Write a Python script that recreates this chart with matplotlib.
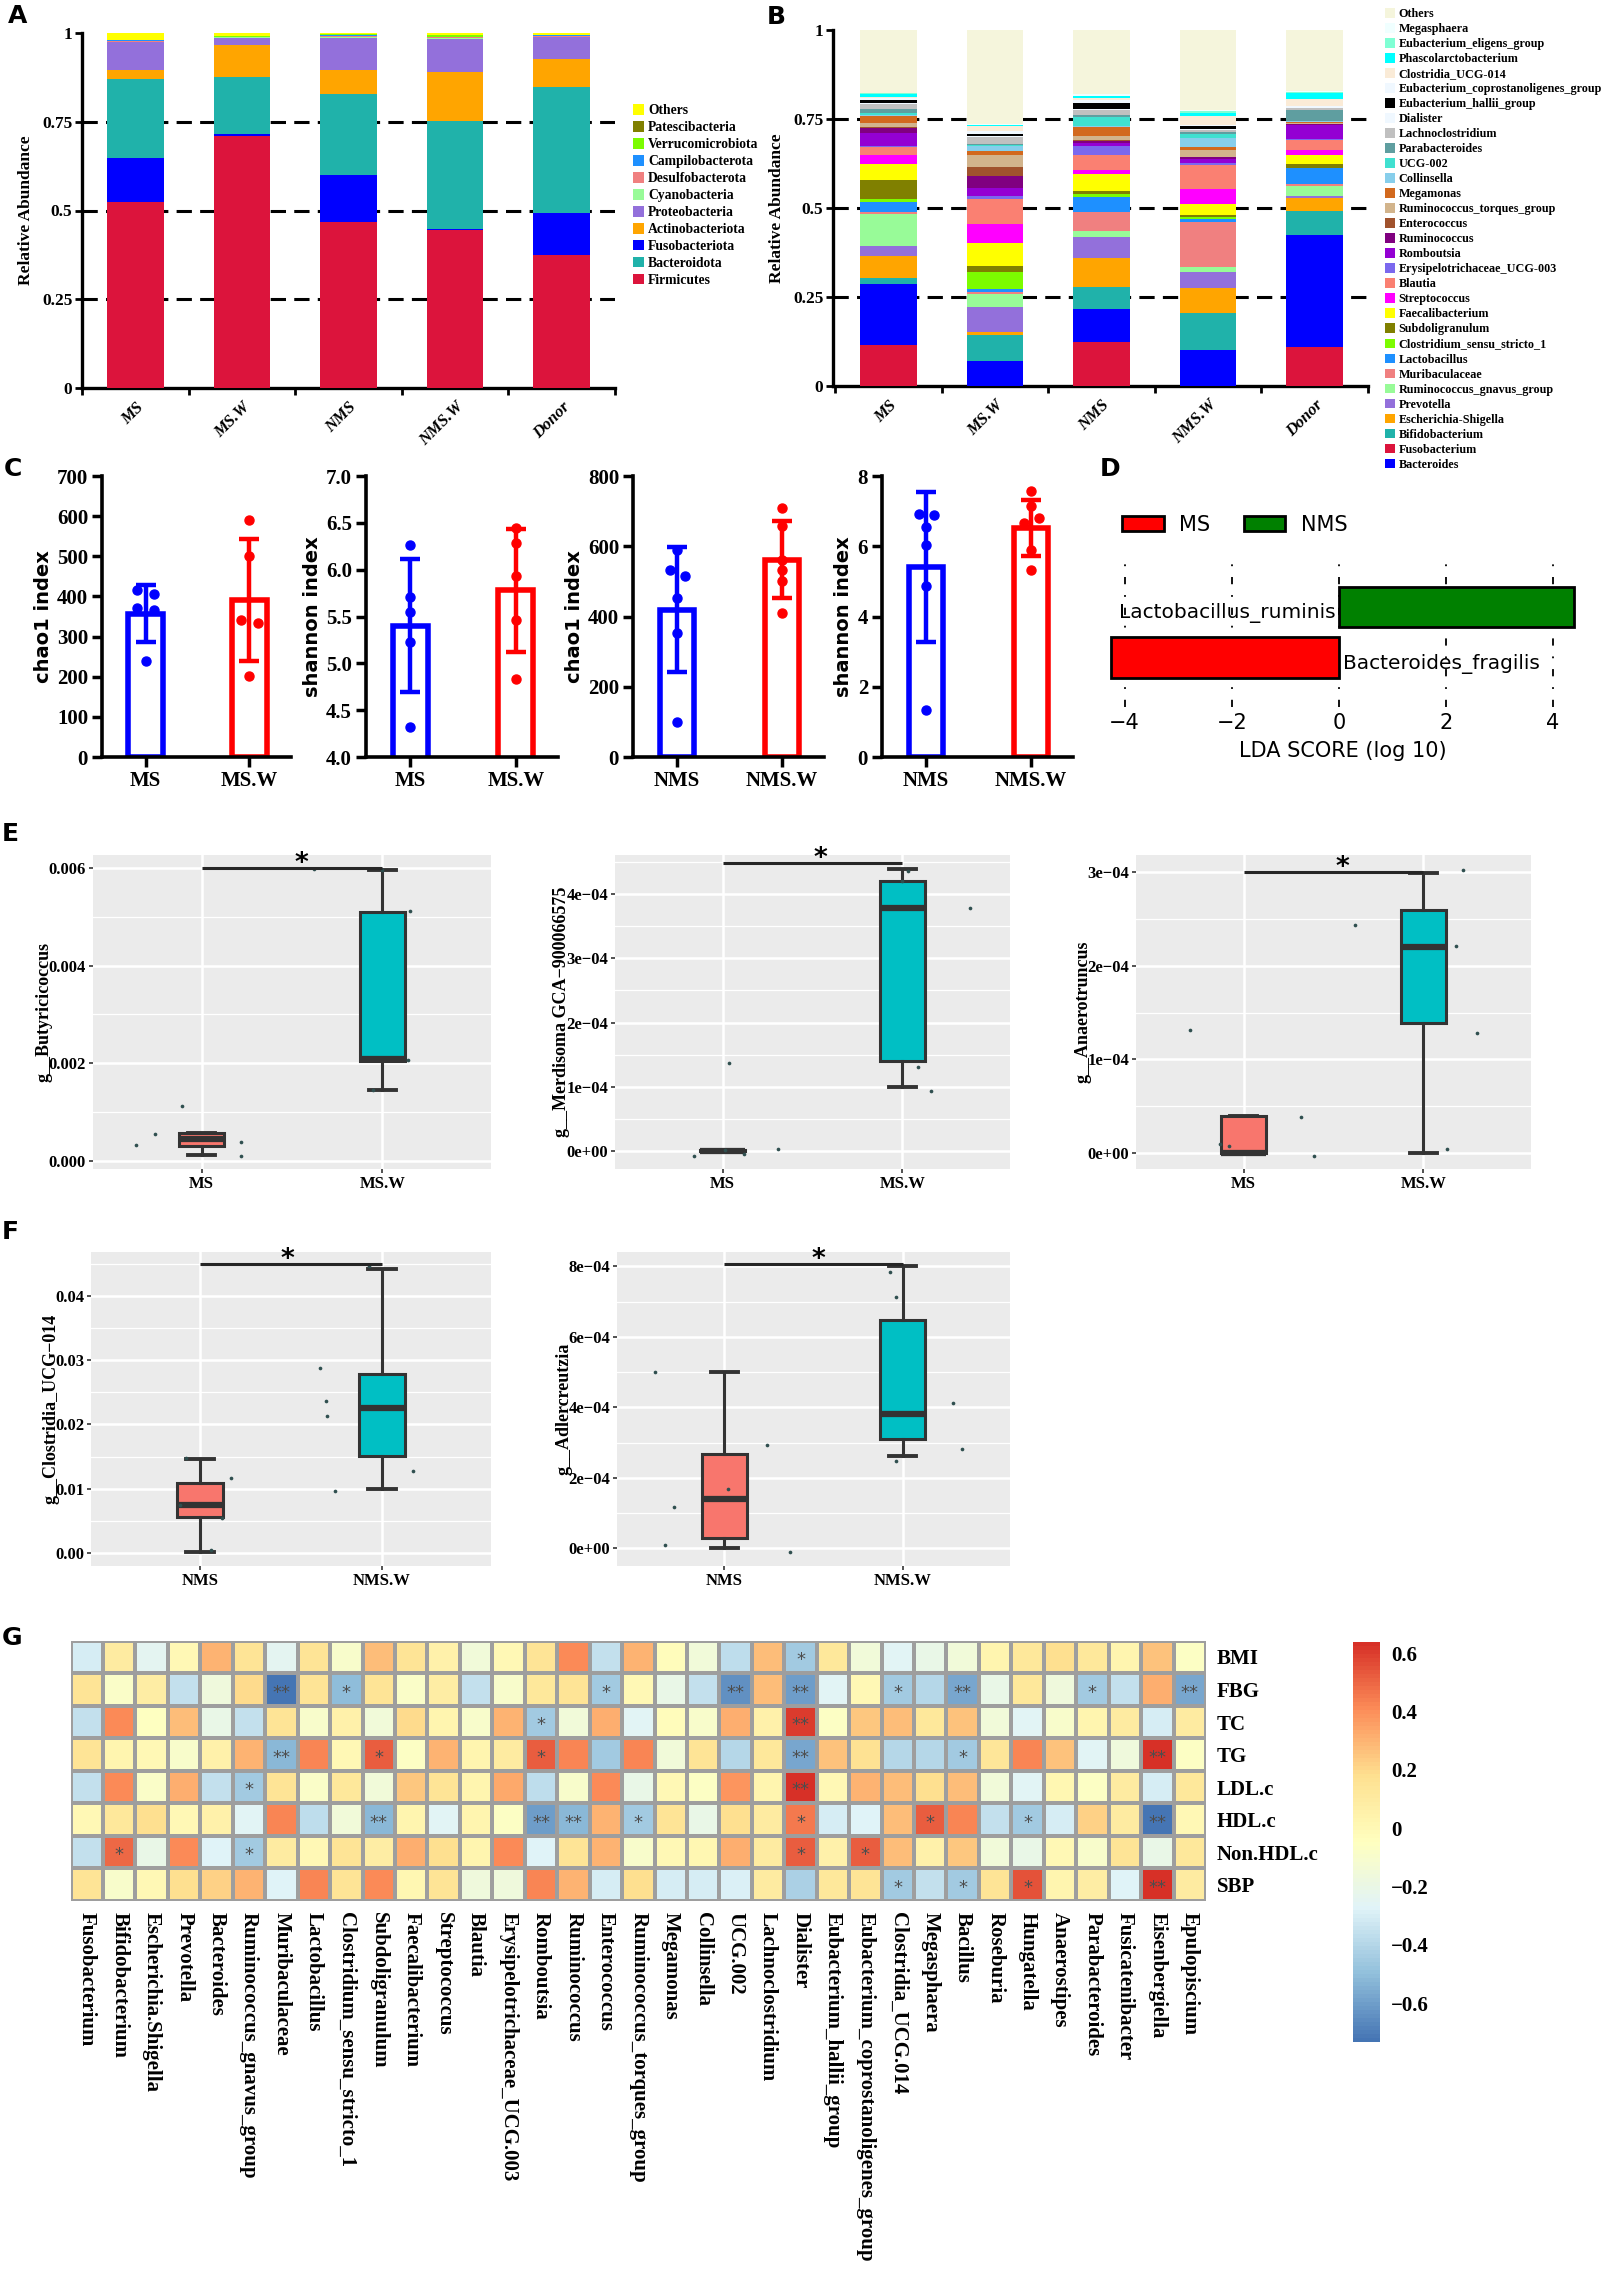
import matplotlib
matplotlib.use("Agg")
import matplotlib.pyplot as plt
from matplotlib.colors import LinearSegmentedColormap
from matplotlib.patches import Patch
from matplotlib.ticker import MultipleLocator, NullLocator, FuncFormatter
import numpy as np

W, H = 1607, 2275
SERIF = "Liberation Serif"
SANS = "DejaVu Sans"
plt.rcParams["font.family"] = [SERIF, "DejaVu Sans"]
plt.rcParams["font.weight"] = "bold"
plt.rcParams["axes.labelweight"] = "bold"

groups = ["MS", "MS.W", "NMS", "NMS.W", "Donor"]

# ---------------- A: phylum relative abundance (MS, MS.W, NMS, NMS.W, Donor)
firmicutes = [0.525, 0.710, 0.468, 0.445, 0.376]
fusobacteriota = [0.122, 0.006, 0.132, 0.004, 0.116]
bacteroidota = [0.223, 0.159, 0.228, 0.304, 0.356]
actinobacteriota = [0.027, 0.090, 0.069, 0.138, 0.078]
proteobacteria = [0.078, 0.022, 0.090, 0.092, 0.062]
cyanobacteria = [0.001, 0.001, 0.002, 0.002, 0.001]
desulfobacterota = [0.002, 0.001, 0.003, 0.003, 0.003]
campilobacterota = [0.001, 0.001, 0.001, 0.002, 0.001]
verrucomicrobiota = [0.001, 0.001, 0.003, 0.003, 0.001]
patescibacteria = [0.001, 0.001, 0.001, 0.001, 0.001]
others_phylum = [0.020, 0.009, 0.004, 0.008, 0.006]

# ---------------- B: genus relative abundance
fusobacterium = [0.114, 0.001, 0.125, 0.001, 0.110]
bacteroides = [0.172, 0.070, 0.091, 0.099, 0.314]
bifidobacterium = [0.017, 0.071, 0.062, 0.105, 0.068]
escherichia_shigella = [0.062, 0.009, 0.082, 0.069, 0.036]
prevotella = [0.029, 0.071, 0.058, 0.045, 0.007]
rum_gnavus = [0.090, 0.037, 0.016, 0.015, 0.026]
muribaculaceae = [0.005, 0.006, 0.055, 0.126, 0.007]
lactobacillus = [0.029, 0.008, 0.043, 0.009, 0.043]
clostridium_ss1 = [0.007, 0.048, 0.006, 0.007, 0.002]
subdoligranulum = [0.053, 0.016, 0.010, 0.005, 0.010]
faecalibacterium = [0.047, 0.065, 0.047, 0.031, 0.026]
streptococcus = [0.023, 0.054, 0.013, 0.040, 0.015]
blautia = [0.023, 0.070, 0.041, 0.070, 0.028]
erysipelotrichaceae = [0.002, 0.008, 0.026, 0.005, 0.002]
romboutsia = [0.038, 0.021, 0.007, 0.010, 0.038]
ruminococcus = [0.014, 0.034, 0.006, 0.005, 0.004]
enterococcus = [0.002, 0.025, 0.002, 0.002, 0.001]
rum_torques = [0.011, 0.035, 0.012, 0.020, 0.002]
megamonas = [0.021, 0.010, 0.026, 0.008, 0.002]
collinsella = [0.003, 0.014, 0.002, 0.026, 0.002]
ucg_002 = [0.004, 0.004, 0.025, 0.011, 0.002]
parabacteroides = [0.012, 0.004, 0.006, 0.004, 0.030]
lachnoclostridium = [0.014, 0.019, 0.015, 0.007, 0.006]
dialister = [0.002, 0.001, 0.002, 0.002, 0.002]
eub_hallii = [0.010, 0.007, 0.017, 0.009, 0.002]
eub_copro = [0.005, 0.007, 0.007, 0.002, 0.002]
clostridia_ucg014 = [0.004, 0.014, 0.007, 0.026, 0.018]
phascolarctobacterium = [0.007, 0.004, 0.005, 0.009, 0.018]
eub_eligens = [0.002, 0.001, 0.002, 0.005, 0.004]
megasphaera = [0.002, 0.001, 0.005, 0.002, 0.001]
others_genus = [0.176, 0.266, 0.179, 0.226, 0.172]

# ---------------- C: alpha diversity
chao_ms_mean, chao_ms_sd = [357, 392], [71, 152]
chao_ms_pts = [[417, 405, 370, 365, 239], [590, 501, 341, 334, 201]]
chao_ms_off = [[-0.08, 0.08, -0.08, 0.08, 0.0], [0.0, 0.0, -0.08, 0.08, 0.0]]
shan_ms_mean, shan_ms_sd = [5.40, 5.78], [0.71, 0.655]
shan_ms_pts = [[6.26, 5.71, 5.55, 5.23, 4.32], [6.45, 6.28, 5.93, 5.46, 4.83]]
shan_ms_off = [[0, 0, 0, 0, 0], [0, 0, 0, 0, 0]]
chao_nms_mean, chao_nms_sd = [419, 562], [178, 110]
chao_nms_pts = [[590, 533, 516, 452, 354, 100], [710, 657, 560, 531, 500, 411]]
chao_nms_off = [[0, -0.07, 0.08, 0, 0, 0], [0, 0, 0, 0, 0, 0]]
shan_nms_mean, shan_nms_sd = [5.41, 6.52], [2.13, 0.80]
shan_nms_pts = [[6.92, 6.90, 6.54, 6.04, 4.88, 1.35], [7.57, 7.14, 6.81, 6.67, 5.90, 5.33]]
shan_nms_off = [[-0.07, 0.08, 0, 0, 0, 0], [0, 0, 0.08, -0.07, 0, 0]]

# ---------------- D: LEfSe
lda_taxa = ["Bacteroides_fragilis", "Lactobacillus_ruminis"]
lda_score = [-4.25, 4.39]
lda_colors = ["#FF0000", "#008000"]

# ---------------- E / F: boxplots (lo, q1, median, q3, hi)
butyr_stats = [(0.00012, 0.00031, 0.00045, 0.00056, 0.00056), (0.00146, 0.00205, 0.00208, 0.00511, 0.00597)]
butyr_x = [0.64, 0.74, 0.89, 1.22, 1.22, 1.62, 2.15, 2.14, 1.95, 2.0]
butyr_y = [0.00032, 0.00055, 0.00112, 0.00039, 0.0001, 0.00598, 0.00512, 0.00207, 0.00146, 0.00597]
merd_stats = [(0.0, 0.0, 0.0, 0.02e-4, 0.02e-4), (1.0e-4, 1.40e-4, 3.79e-4, 4.21e-4, 4.39e-4)]
merd_x = [0.84, 1.035, 1.12, 1.31, 1.01, 2.03, 2.38, 2.09, 2.16, 2.0]
merd_y = [-0.073e-4, 1.37e-4, -0.047e-4, 0.026e-4, 0.016e-4, 4.36e-4, 3.78e-4, 1.31e-4, 0.94e-4, 4.21e-4]
anaero_stats = [(0.0, 0.0, 0.0, 0.40e-4, 0.40e-4), (0.0, 1.39e-4, 2.2e-4, 2.59e-4, 2.99e-4)]
anaero_x = [0.70, 0.92, 0.87, 1.32, 1.39, 2.22, 2.18, 2.30, 2.13, 1.62]
anaero_y = [1.31e-4, 0.08e-4, 0.10e-4, 0.39e-4, -0.025e-4, 3.02e-4, 2.21e-4, 1.28e-4, 0.05e-4, 2.43e-4]
clos_stats = [(0.0001, 0.0055, 0.0075, 0.0108, 0.01465), (0.0100, 0.01507, 0.0225, 0.02795, 0.0443)]
clos_x = [0.92, 1.17, 1.12, 1.06, 0.89, 1.66, 1.69, 1.70, 1.74, 2.17, 1.93]
clos_y = [0.0148, 0.0117, 0.0054, 0.0005, 0.0074, 0.0288, 0.0237, 0.0214, 0.0097, 0.0127, 0.0447]
adler_stats = [(0.0, 0.30e-4, 1.40e-4, 2.67e-4, 5.0e-4), (2.62e-4, 3.11e-4, 3.81e-4, 6.47e-4, 8.0e-4)]
adler_x = [0.61, 1.24, 1.02, 0.72, 0.67, 1.37, 1.93, 1.96, 2.28, 2.33, 1.96]
adler_y = [4.99e-4, 2.92e-4, 1.67e-4, 1.18e-4, 0.09e-4, -0.11e-4, 7.84e-4, 7.13e-4, 4.11e-4, 2.83e-4, 2.48e-4]

# ---------------- G: correlation heatmap
genera_g = ["Fusobacterium", "Bifidobacterium", "Escherichia.Shigella", "Prevotella", "Bacteroides",
            "Ruminococcus_gnavus_group", "Muribaculaceae", "Lactobacillus", "Clostridium_sensu_stricto_1",
            "Subdoligranulum", "Faecalibacterium", "Streptococcus", "Blautia", "Erysipelotrichaceae_UCG.003",
            "Romboutsia", "Ruminococcus", "Enterococcus", "Ruminococcus_torques_group", "Megamonas",
            "Collinsella", "UCG.002", "Lachnoclostridium", "Dialister", "Eubacterium_hallii_group",
            "Eubacterium_coprostanoligenes_group", "Clostridia_UCG.014", "Megasphaera", "Bacillus",
            "Roseburia", "Hungatella", "Anaerostipes", "Parabacteroides", "Fusicatenibacter",
            "Eisenbergiella", "Epulopiscium"]
clinical = ["BMI", "FBG", "TC", "TG", "LDL.c", "HDL.c", "Non.HDL.c", "SBP"]
bmi = [-0.30, 0.10, -0.25, 0.00, 0.30, 0.15, -0.25, 0.15, -0.10, 0.28, 0.15, 0.05, -0.15, 0.00, 0.15, 0.42, -0.35, 0.30, -0.02, -0.15, -0.37, 0.28, -0.45, 0.12, -0.15, -0.26, -0.20, -0.15, 0.03, 0.12, 0.18, 0.12, 0.03, 0.26, -0.07]
fbg = [0.15, -0.08, 0.08, -0.35, -0.17, 0.20, -0.72, 0.15, -0.50, 0.15, -0.08, 0.08, -0.35, -0.10, 0.12, 0.15, -0.45, 0.00, -0.20, -0.35, -0.65, 0.28, -0.60, -0.26, 0.00, -0.45, -0.40, -0.57, -0.20, 0.12, -0.17, -0.45, -0.35, 0.32, -0.57]
tc = [-0.35, 0.42, -0.05, 0.27, -0.20, -0.35, 0.15, -0.10, 0.05, -0.15, 0.20, 0.03, -0.10, 0.30, -0.45, -0.15, 0.32, -0.26, -0.02, -0.10, 0.32, 0.05, 0.60, -0.07, 0.25, 0.28, 0.12, 0.26, -0.15, -0.26, -0.10, 0.03, 0.10, -0.30, 0.10]
tg = [0.15, 0.03, 0.00, -0.10, 0.05, 0.30, -0.52, 0.43, 0.00, 0.52, -0.07, 0.30, 0.03, 0.10, 0.52, 0.43, -0.45, 0.43, -0.15, 0.15, -0.40, 0.12, -0.57, 0.26, 0.16, -0.40, -0.40, -0.45, 0.14, 0.43, 0.26, -0.26, -0.17, 0.64, -0.07]
ldl = [-0.35, 0.42, -0.08, 0.32, -0.35, -0.45, 0.15, -0.08, 0.12, -0.15, 0.25, 0.15, 0.03, 0.33, -0.37, -0.10, 0.42, -0.20, 0.00, -0.07, 0.38, 0.03, 0.64, 0.00, 0.30, 0.28, 0.18, 0.27, -0.15, -0.26, 0.02, -0.07, 0.10, -0.30, 0.12]
hdl = [0.00, 0.12, 0.18, 0.00, 0.05, -0.26, 0.43, -0.37, -0.15, -0.52, 0.03, -0.26, 0.03, -0.07, -0.60, -0.52, 0.30, -0.45, 0.15, -0.20, 0.18, 0.10, 0.46, -0.30, -0.27, 0.28, 0.52, 0.43, -0.35, -0.45, -0.30, 0.22, 0.10, -0.72, 0.00]
nonhdl = [-0.35, 0.50, -0.20, 0.42, -0.27, -0.45, 0.10, 0.00, 0.15, 0.08, 0.32, 0.18, 0.03, 0.42, -0.27, 0.15, 0.30, -0.10, 0.00, 0.02, 0.32, 0.10, 0.52, 0.06, 0.52, 0.27, 0.06, 0.25, -0.15, -0.20, 0.00, -0.10, 0.15, -0.20, 0.12]
sbp = [0.15, -0.10, 0.00, 0.18, 0.22, 0.30, -0.27, 0.43, 0.15, 0.42, 0.02, 0.15, -0.17, -0.17, 0.43, 0.30, -0.30, 0.18, -0.30, -0.30, -0.28, 0.10, -0.43, 0.12, 0.15, -0.45, -0.35, -0.45, 0.15, 0.55, 0.03, 0.08, -0.27, 0.64, 0.10]
# number of stars per cell, grouped in blocks of five columns
bmi_sig = "00000 00000 00000 00000 00100 00000 00000"
fbg_sig = "00000 02010 00000 01000 20200 10200 01002"
tc_sig = "00000 00000 00001 00000 00200 00000 00000"
tg_sig = "00000 02001 00001 00000 00200 00100 00020"
ldl_sig = "00000 10000 00000 00000 00200 00000 00000"
hdl_sig = "00000 00002 00002 20100 00100 01001 00020"
nonhdl_sig = "01000 10000 00000 00000 00101 00000 00000"
sbp_sig = "00000 00000 00000 00000 00000 10101 00020"

fig = plt.figure(figsize=(W / 100, H / 100), dpi=100)


def rect(x0, y0, x1, y1):
    return [x0 / W, 1 - y1 / H, (x1 - x0) / W, (y1 - y0) / H]


def letter(x, y, s):
    fig.text(x / W, 1 - y / H, s, fontsize=18, fontweight="bold", family=SANS, ha="left", va="center")


def abundance(box, xlim, layers, legend_items, anchor, fsize, lspace):
    ax = fig.add_axes(rect(*box))
    x = np.arange(len(groups))
    base = np.zeros(len(groups))
    for vals, col in layers:
        ax.bar(x, vals, 0.53, bottom=base, color=col, linewidth=0, zorder=3)
        base = base + np.asarray(vals)
    for yy in (0.25, 0.5, 0.75):
        ax.axhline(yy, color="black", lw=2.2, ls=(0, (5, 2.7)), zorder=1)
    ax.set_xlim(*xlim)
    ax.set_ylim(0, 1)
    for s in ("top", "right"):
        ax.spines[s].set_visible(False)
    for s in ("left", "bottom"):
        ax.spines[s].set_linewidth(2.4)
    ax.set_yticks([0, 0.25, 0.5, 0.75, 1])
    ax.set_yticklabels(["0", "0.25", "0.5", "0.75", "1"])
    ax.set_xticks(x)
    ax.set_xticklabels(groups, rotation=45, ha="right", va="top", rotation_mode="anchor",
                       fontstyle="italic", fontsize=12)
    ax.set_xticks(np.arange(-0.5, 5, 1), minor=True)
    ax.tick_params(axis="x", which="major", length=0, pad=8)
    ax.tick_params(axis="x", which="minor", length=5, width=2)
    ax.tick_params(axis="y", length=5, width=2, labelsize=12.5, pad=2)
    ax.set_ylabel("Relative Abundance", fontsize=12.5, labelpad=6)
    handles = [Patch(facecolor=c, edgecolor="none") for _, c in legend_items]
    ax.legend(handles, [n for n, _ in legend_items], loc="upper left",
              bbox_to_anchor=(anchor[0] / W, 1 - anchor[1] / H), bbox_transform=fig.transFigure,
              frameon=False, prop=dict(family=SERIF, weight="bold", size=fsize),
              handlelength=0.8, handleheight=0.85, handletextpad=0.3, labelspacing=lspace,
              borderpad=0, borderaxespad=0)
    return ax


# ---- A
phyla_stack = [(firmicutes, "#DC143C"), (fusobacteriota, "#0000FF"), (bacteroidota, "#20B2AA"),
               (actinobacteriota, "#FFA500"), (proteobacteria, "#9370DB"), (cyanobacteria, "#98FB98"),
               (desulfobacterota, "#F08080"), (campilobacterota, "#1E90FF"), (verrucomicrobiota, "#7CFC00"),
               (patescibacteria, "#808000"), (others_phylum, "#FFFF00")]
phyla_legend = [("Others", "#FFFF00"), ("Patescibacteria", "#808000"), ("Verrucomicrobiota", "#7CFC00"),
                ("Campilobacterota", "#1E90FF"), ("Desulfobacterota", "#F08080"), ("Cyanobacteria", "#98FB98"),
                ("Proteobacteria", "#9370DB"), ("Actinobacteriota", "#FFA500"), ("Fusobacteriota", "#0000FF"),
                ("Bacteroidota", "#20B2AA"), ("Firmicutes", "#DC143C")]
abundance((82, 33, 615, 388), (-0.5, 4.5), phyla_stack, phyla_legend, (633, 104), 9.8, 0.28)

# ---- B
genus_stack = [(fusobacterium, "#DC143C"), (bacteroides, "#0000FF"), (bifidobacterium, "#20B2AA"),
               (escherichia_shigella, "#FFA500"), (prevotella, "#9370DB"), (rum_gnavus, "#98FB98"),
               (muribaculaceae, "#F08080"), (lactobacillus, "#1E90FF"), (clostridium_ss1, "#7CFC00"),
               (subdoligranulum, "#808000"), (faecalibacterium, "#FFFF00"), (streptococcus, "#FF00FF"),
               (blautia, "#FA8072"), (erysipelotrichaceae, "#7B68EE"), (romboutsia, "#9400D3"),
               (ruminococcus, "#800080"), (enterococcus, "#A0522D"), (rum_torques, "#D2B48C"),
               (megamonas, "#D2691E"), (collinsella, "#87CEEB"), (ucg_002, "#40E0D0"),
               (parabacteroides, "#5F9EA0"), (lachnoclostridium, "#C0C0C0"), (dialister, "#F0F8FF"),
               (eub_hallii, "#000000"), (eub_copro, "#F0F8FF"), (clostridia_ucg014, "#FAEBD7"),
               (phascolarctobacterium, "#00FFFF"), (eub_eligens, "#7FFFD4"), (megasphaera, "#F0FFFF"),
               (others_genus, "#F5F5DC")]
genus_legend = [("Others", "#F5F5DC"), ("Megasphaera", "#F0FFFF"), ("Eubacterium_eligens_group", "#7FFFD4"),
                ("Phascolarctobacterium", "#00FFFF"), ("Clostridia_UCG-014", "#FAEBD7"),
                ("Eubacterium_coprostanoligenes_group", "#F0F8FF"), ("Eubacterium_hallii_group", "#000000"),
                ("Dialister", "#F0F8FF"), ("Lachnoclostridium", "#C0C0C0"), ("Parabacteroides", "#5F9EA0"),
                ("UCG-002", "#40E0D0"), ("Collinsella", "#87CEEB"), ("Megamonas", "#D2691E"),
                ("Ruminococcus_torques_group", "#D2B48C"), ("Enterococcus", "#A0522D"),
                ("Ruminococcus", "#800080"), ("Romboutsia", "#9400D3"),
                ("Erysipelotrichaceae_UCG-003", "#7B68EE"), ("Blautia", "#FA8072"),
                ("Streptococcus", "#FF00FF"), ("Faecalibacterium", "#FFFF00"), ("Subdoligranulum", "#808000"),
                ("Clostridium_sensu_stricto_1", "#7CFC00"), ("Lactobacillus", "#1E90FF"),
                ("Muribaculaceae", "#F08080"), ("Ruminococcus_gnavus_group", "#98FB98"),
                ("Prevotella", "#9370DB"), ("Escherichia-Shigella", "#FFA500"),
                ("Bifidobacterium", "#20B2AA"), ("Fusobacterium", "#DC143C"), ("Bacteroides", "#0000FF")]
abundance((833, 30, 1368, 386), (-0.52, 4.5), genus_stack, genus_legend, (1385, 8), 8.7, 0.25)


# ---- C
def alpha(box, means, sds, pts, offs, ylim, ticks, ticklabels, ylabel, names):
    ax = fig.add_axes(rect(*box))
    cols = ["#0000FF", "#FF0000"]
    for i in range(2):
        ax.bar(i, means[i], 0.33, facecolor="white", edgecolor=cols[i], linewidth=4, zorder=2)
        ax.errorbar(i, means[i], yerr=sds[i], color=cols[i], elinewidth=3.2, capsize=7,
                    capthick=3.2, zorder=3)
        ax.plot(i + np.asarray(offs[i]), pts[i], "o", color=cols[i], ms=6.5, zorder=4)
    ax.set_xlim(-0.42, 1.4)
    ax.set_ylim(*ylim)
    for s in ("top", "right"):
        ax.spines[s].set_visible(False)
    for s in ("left", "bottom"):
        ax.spines[s].set_linewidth(2.6)
        ax.spines[s].set_zorder(5)
    ax.set_yticks(ticks)
    ax.set_yticklabels(ticklabels)
    ax.set_xticks([0, 1])
    ax.set_xticklabels(names)
    ax.tick_params(length=7, width=2.5, labelsize=15, pad=3)
    ax.set_ylabel(ylabel, family=SANS, fontsize=14, fontweight="bold", labelpad=3)


alpha((102, 476, 291, 757), chao_ms_mean, chao_ms_sd, chao_ms_pts, chao_ms_off, (0, 700),
      range(0, 701, 100), [str(v) for v in range(0, 701, 100)], "chao1 index", ["MS", "MS.W"])
alpha((366, 476, 558, 757), shan_ms_mean, shan_ms_sd, shan_ms_pts, shan_ms_off, (4, 7),
      [4, 4.5, 5, 5.5, 6, 6.5, 7], ["4.0", "4.5", "5.0", "5.5", "6.0", "6.5", "7.0"],
      "shannon index", ["MS", "MS.W"])
alpha((633, 476, 824, 757), chao_nms_mean, chao_nms_sd, chao_nms_pts, chao_nms_off, (0, 800),
      range(0, 801, 200), [str(v) for v in range(0, 801, 200)], "chao1 index", ["NMS", "NMS.W"])
alpha((882, 476, 1073, 757), shan_nms_mean, shan_nms_sd, shan_nms_pts, shan_nms_off, (0, 8),
      [0, 2, 4, 6, 8], ["0", "2", "4", "6", "8"], "shannon index", ["NMS", "NMS.W"])

# ---- D
axd = fig.add_axes(rect(1108.6, 557, 1577, 707))
axd.barh([0, 1], lda_score, height=0.8, color=lda_colors, edgecolor="black", linewidth=2, zorder=3)
axd.set_xlim(-4.3, 4.45)
axd.set_ylim(-0.98, 1.99)
axd.set_xticks([-4, -2, 0, 2, 4])
axd.set_yticks([])
for s in axd.spines.values():
    s.set_visible(False)
axd.xaxis.grid(True, color="black", lw=1.3, ls=(0, (4, 6, 1, 6)))
axd.set_axisbelow(True)
axd.tick_params(axis="x", length=0, pad=4)
for lab in axd.get_xticklabels():
    lab.set_family(SANS)
    lab.set_fontweight("normal")
    lab.set_fontsize(15)
axd.set_xlabel("LDA SCORE (log 10)", family=SANS, fontweight="normal", fontsize=15, labelpad=6)
axd.text(-0.05, 0.88, lda_taxa[1], ha="right", va="center", family=SANS, fontweight="normal",
         fontsize=14.5, zorder=4)
axd.text(0.08, -0.13, lda_taxa[0], ha="left", va="center", family=SANS, fontweight="normal",
         fontsize=14.5, zorder=4)
axd.legend([Patch(facecolor=c, edgecolor="black", linewidth=2) for c in lda_colors], ["MS", "NMS"],
           ncol=2, loc="center left", bbox_to_anchor=(1122 / W, 1 - 525 / H), bbox_transform=fig.transFigure,
           frameon=False, prop=dict(family=SANS, size=15, weight="normal"), handlelength=2.0,
           handleheight=0.75, handletextpad=0.75, columnspacing=1.6, borderpad=0, borderaxespad=0)


# ---- E / F
def fixed(nd):
    def f(v, _):
        if abs(v) < 1e-12:
            v = 0.0
        return f"{v:.{nd}f}"
    return f


def sci(v, _):
    if abs(v) < 1e-12:
        return "0e+00"
    return f"{v:.0e}".replace("-", "\u2212")


def boxes(box, stats, px, py, ylim, step, fmt, ylabel, names, sig_y, star_x):
    ax = fig.add_axes(rect(*box))
    ax.set_facecolor("#EBEBEB")
    ax.set_xlim(0.4, 2.6)
    ax.set_ylim(*ylim)
    ax.yaxis.set_major_locator(MultipleLocator(step))
    ax.yaxis.set_minor_locator(MultipleLocator(step / 2))
    ax.yaxis.set_major_formatter(FuncFormatter(fmt))
    ax.set_xticks([1, 2])
    ax.set_xticklabels(names)
    ax.xaxis.set_minor_locator(NullLocator())
    ax.grid(which="major", color="white", lw=1.8)
    ax.grid(which="minor", axis="y", color="white", lw=0.9)
    ax.set_axisbelow(True)
    for s in ax.spines.values():
        s.set_visible(False)
    ax.tick_params(which="major", length=3, width=1.2, color="#333333", labelsize=12, pad=2)
    ax.tick_params(which="minor", length=0)
    bst = [dict(whislo=s[0], q1=s[1], med=s[2], q3=s[3], whishi=s[4], fliers=[]) for s in stats]
    res = ax.bxp(bst, positions=[1, 2], widths=0.25, patch_artist=True, showfliers=False,
                 capwidths=0.15, manage_ticks=False,
                 boxprops=dict(edgecolor="#333333", linewidth=2.2),
                 medianprops=dict(color="#333333", linewidth=4.5),
                 whiskerprops=dict(color="#333333", linewidth=2.2),
                 capprops=dict(color="#333333", linewidth=2.8))
    res["boxes"][0].set_facecolor("#F8766D")
    res["boxes"][1].set_facecolor("#00BFC4")
    ax.scatter(px, py, s=7, color="#2F4F4F", zorder=5, linewidths=0)
    ax.plot([1, 2], [sig_y, sig_y], color="#262626", lw=2.2, solid_capstyle="butt", zorder=6)
    ax.annotate("*", (star_x, sig_y), xytext=(0, 3), textcoords="offset points", ha="center",
                va="center", fontsize=19, fontweight="bold", family=SANS, zorder=7)
    ax.set_ylabel(ylabel, fontsize=13, labelpad=-3)


boxes((93, 855, 491, 1169), butyr_stats, butyr_x, butyr_y, (-0.00017, 0.00627), 0.002, fixed(3),
      "g__Butyricicoccus", ["MS", "MS.W"], 0.006, 1.55)
boxes((615, 855, 1010, 1169), merd_stats, merd_x, merd_y, (-0.28e-4, 4.61e-4), 1e-4, sci,
      "g__Merdisoma GCA\u2212900066575", ["MS", "MS.W"], 4.49e-4, 1.545)
boxes((1136, 855, 1531, 1169), anaero_stats, anaero_x, anaero_y, (-0.167e-4, 3.178e-4), 1e-4, sci,
      "g__Anaerotruncus", ["MS", "MS.W"], 3.0e-4, 1.547)
boxes((91, 1252, 491, 1566), clos_stats, clos_x, clos_y, (-0.00207, 0.0469), 0.01, fixed(2),
      "g__Clostridia_UCG\u2212014", ["NMS", "NMS.W"], 0.045, 1.48)
boxes((617, 1252, 1010, 1566), adler_stats, adler_x, adler_y, (-0.5e-4, 8.405e-4), 2e-4, sci,
      "g__Adlercreutzia", ["NMS", "NMS.W"], 8.06e-4, 1.53)

# ---- G
axg = fig.add_axes(rect(70.6, 1640.7, 1206, 1901))
corr = np.array([bmi, fbg, tc, tg, ldl, hdl, nonhdl, sbp])
sig_rows = [bmi_sig, fbg_sig, tc_sig, tg_sig, ldl_sig, hdl_sig, nonhdl_sig, sbp_sig]
cmap = LinearSegmentedColormap.from_list(
    "pheat", ["#4575B4", "#91BFDB", "#E0F3F8", "#FFFFBF", "#FEE090", "#FC8D59", "#D73027"], N=100)
mesh = axg.pcolormesh(corr, cmap=cmap, vmin=-0.733, vmax=0.64, edgecolors="#9E9E9E", linewidth=1.5)
axg.set_xlim(0, len(genera_g))
axg.set_ylim(len(clinical), 0)
for r, srow in enumerate(sig_rows):
    for c, ch in enumerate(srow.replace(" ", "")):
        if ch != "0":
            axg.text(c + 0.5, r + 0.6, "*" * int(ch), ha="center", va="center", family=SANS,
                     fontweight="normal", fontsize=13, color="#4D4D4D")
for s in axg.spines.values():
    s.set_visible(False)
axg.set_xticks(np.arange(len(genera_g)) + 0.5)
axg.set_xticklabels(genera_g, rotation=270, ha="center", va="top", fontsize=15)
axg.yaxis.tick_right()
axg.set_yticks(np.arange(len(clinical)) + 0.5)
axg.set_yticklabels(clinical, fontsize=15)
axg.tick_params(length=0, pad=8)

cax = fig.add_axes(rect(1353, 1641.7, 1380, 2042))
cb = fig.colorbar(mesh, cax=cax)
cb.outline.set_visible(False)
cb.set_ticks([0.6, 0.4, 0.2, 0, -0.2, -0.4, -0.6])
cb.set_ticklabels(["0.6", "0.4", "0.2", "0", "\u22120.2", "\u22120.4", "\u22120.6"])
cb.ax.tick_params(length=0, pad=8, labelsize=15)

letter(8, 16, "A")
letter(767, 17, "B")
letter(4, 469, "C")
letter(1100, 469, "D")
letter(2, 834, "E")
letter(2, 1232, "F")
letter(2, 1638, "G")

fig.savefig("out.png", dpi=100)
